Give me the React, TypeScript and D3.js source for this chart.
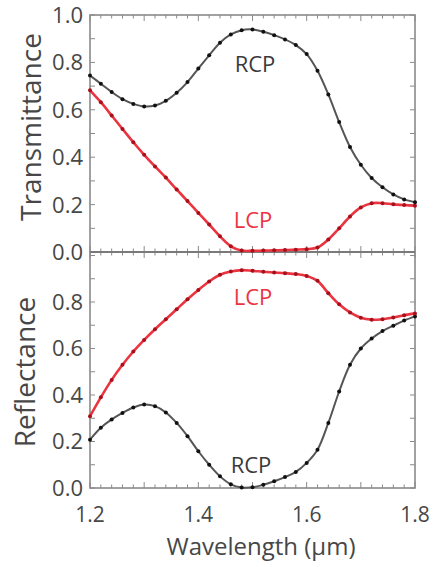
import React from "react";
import * as d3 from "d3";

const wavelength = d3.range(31).map((i) => +(1.2 + i * 0.02).toFixed(2));

const transRCP = [0.745, 0.71, 0.675, 0.645, 0.625, 0.614, 0.618, 0.638, 0.672, 0.717, 0.774, 0.83, 0.883, 0.918, 0.936, 0.939, 0.929, 0.915, 0.897, 0.873, 0.835, 0.765, 0.665, 0.548, 0.443, 0.368, 0.312, 0.273, 0.243, 0.222, 0.21];
const transLCP = [0.682, 0.632, 0.576, 0.519, 0.463, 0.41, 0.361, 0.314, 0.264, 0.215, 0.165, 0.116, 0.066, 0.024, 0.006, 0.005, 0.006, 0.007, 0.008, 0.01, 0.012, 0.019, 0.053, 0.1, 0.15, 0.188, 0.206, 0.206, 0.201, 0.198, 0.195];
const reflLCP = [0.309, 0.39, 0.465, 0.53, 0.587, 0.637, 0.683, 0.726, 0.769, 0.812, 0.852, 0.888, 0.917, 0.931, 0.937, 0.934, 0.93, 0.927, 0.924, 0.92, 0.912, 0.891, 0.838, 0.79, 0.755, 0.732, 0.724, 0.726, 0.733, 0.743, 0.751];
const reflRCP = [0.208, 0.259, 0.295, 0.323, 0.346, 0.359, 0.352, 0.325, 0.28, 0.223, 0.158, 0.1, 0.05, 0.016, 0.002, 0.003, 0.014, 0.029, 0.047, 0.069, 0.108, 0.165, 0.28, 0.415, 0.53, 0.6, 0.643, 0.675, 0.698, 0.72, 0.738];

const xTickLabels = [1.2, 1.4, 1.6, 1.8];
const yTickLabels = [0, 0.2, 0.4, 0.6, 0.8];
const yTickLabelsTop = [0, 0.2, 0.4, 0.6, 0.8, 1.0];

const W = 434;
const H = 567;
const left = 90;
const right = 415;
const topY0 = 15;
const midY = 252;
const botY = 488;

const FONT = "'Open Sans', 'DejaVu Sans', sans-serif";
const TXT = "#474747";
const FRAME = "#8a8a8a";
const RED = "#ea3440";
const REDDOT = "#a8101c";

export default function App() {
  const x = d3.scaleLinear().domain([1.2, 1.8]).range([left, right]);
  const yTop = d3.scaleLinear().domain([0, 1.0]).range([midY, topY0]);
  const yBot = d3.scaleLinear().domain([0, 1.015]).range([botY, midY]);

  const mkLine = (y: d3.ScaleLinear<number, number>) =>
    d3
      .line<number>()
      .x((_, i) => x(wavelength[i]))
      .y((d) => y(d))
      .curve(d3.curveCatmullRom.alpha(0.5));

  const lt = mkLine(yTop);
  const lb = mkLine(yBot);

  const minorX = d3.range(0, 31).map((i) => 1.2 + i * 0.02);
  const majorX = d3.range(0, 7).map((i) => 1.2 + i * 0.1);
  const yMinor = d3.range(0, 11).map((i) => i * 0.1);

  const series = [
    { data: transRCP, y: yTop, line: lt, stroke: "#555", dot: "#111", w: 2 },
    { data: transLCP, y: yTop, line: lt, stroke: RED, dot: REDDOT, w: 2.6 },
    { data: reflRCP, y: yBot, line: lb, stroke: "#555", dot: "#111", w: 2 },
    { data: reflLCP, y: yBot, line: lb, stroke: RED, dot: REDDOT, w: 2.6 },
  ];

  const frameTicks = (
    y: d3.ScaleLinear<number, number>,
    y0: number,
    y1: number,
    key: string,
    yVals: number[]
  ) => (
    <g key={key} stroke={FRAME} strokeWidth={1}>
      {minorX.map((v, i) => {
        const isMajor = majorX.some((m) => Math.abs(m - v) < 1e-6);
        const len = isMajor ? 6 : 3.5;
        return (
          <g key={i}>
            <line x1={x(v)} x2={x(v)} y1={y0} y2={y0 - len} />
            <line x1={x(v)} x2={x(v)} y1={y1} y2={y1 + len} />
          </g>
        );
      })}
      {yVals.map((v, i) => (
        <g key={"y" + i}>
          <line x1={left} x2={left + 5} y1={y(v)} y2={y(v)} />
          <line x1={right} x2={right - 5} y1={y(v)} y2={y(v)} />
        </g>
      ))}
    </g>
  );

  return (
    <svg
      width={W}
      height={H}
      style={{ position: "absolute", left: 0, top: 0, background: "#fff" }}
      fontFamily={FONT}
    >
      {frameTicks(yTop, midY, topY0, "tt", yMinor)}
      {frameTicks(yBot, botY, midY, "bt", yMinor)}

      <rect x={left} y={topY0} width={right - left} height={botY - topY0} fill="none" stroke={FRAME} strokeWidth={1.6} />
      <line x1={left} x2={right} y1={midY} y2={midY} stroke="#7a7a7a" strokeWidth={2} />

      {series.map((s, k) => (
        <g key={k}>
          <path d={s.line(s.data) || ""} fill="none" stroke={s.stroke} strokeWidth={s.w} />
          {s.data.map((d, i) => (
            <circle key={i} cx={x(wavelength[i])} cy={s.y(d)} r={2} fill={s.dot} />
          ))}
        </g>
      ))}

      {yTickLabelsTop.map((v) => (
        <text key={"t" + v} x={83} y={yTop(v)} dy="0.36em" textAnchor="end" fontSize={22} fill={TXT}>
          {v.toFixed(1)}
        </text>
      ))}
      {yTickLabels.map((v) => (
        <text key={"b" + v} x={83} y={yBot(v)} dy="0.36em" textAnchor="end" fontSize={22} fill={TXT}>
          {v.toFixed(1)}
        </text>
      ))}

      {xTickLabels.map((v) => (
        <text key={"x" + v} x={x(v)} y={522} textAnchor="middle" fontSize={21} fill={TXT}>
          {v.toFixed(1)}
        </text>
      ))}

      <text transform={`translate(41,${127}) rotate(-90)`} textAnchor="middle" fontSize={28} fill={TXT}>
        Transmittance
      </text>
      <text transform={`translate(35,${372}) rotate(-90)`} textAnchor="middle" fontSize={28} fill={TXT}>
        Reflectance
      </text>
      <text x={261} y={555} textAnchor="middle" fontSize={24} fill={TXT}>
        Wavelength (μm)
      </text>

      <text x={255} y={72} textAnchor="middle" fontSize={22} fill="#3a3a3a">RCP</text>
      <text x={253} y={228} textAnchor="middle" fontSize={22} fill={RED}>LCP</text>
      <text x={253} y={305} textAnchor="middle" fontSize={22} fill={RED}>LCP</text>
      <text x={251} y={473} textAnchor="middle" fontSize={22} fill="#3a3a3a">RCP</text>
    </svg>
  );
}
